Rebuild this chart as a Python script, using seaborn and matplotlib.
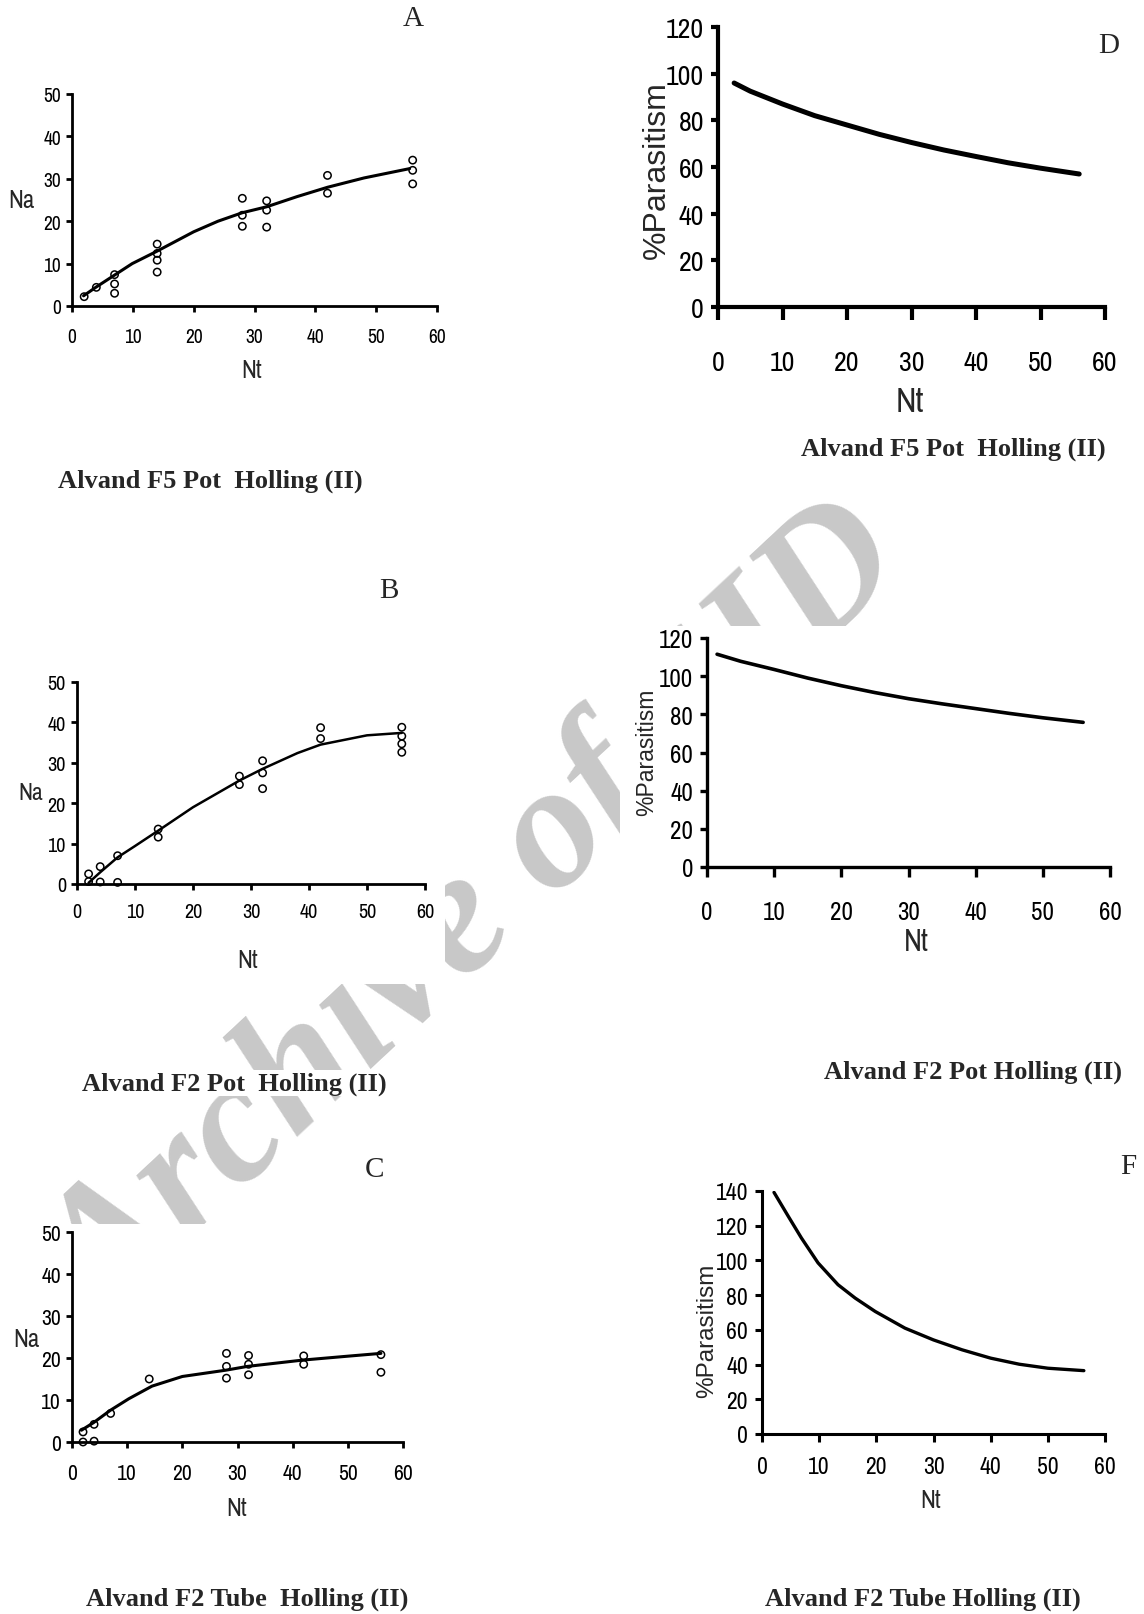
import matplotlib
matplotlib.use("Agg")
import matplotlib.pyplot as plt
import matplotlib.font_manager as fm
from matplotlib.patches import Rectangle
import pandas as pd
import seaborn as sns

# ---- values ----
# A: Alvand F5 Pot
a_nt = [2, 4, 7, 7, 7, 14, 14, 14, 14, 28, 28, 28, 32, 32, 32, 42, 42, 56, 56, 56]
a_na = [2.2, 4.4, 7.4, 5.2, 3.0, 14.6, 12.4, 10.8, 8.0, 25.4, 21.4, 18.8,
        24.8, 22.6, 18.6, 30.8, 26.6, 34.4, 32.0, 28.8]
a_fit_nt = [1.9, 3.9, 6.9, 9.9, 13.8, 20, 24, 28, 32, 37, 42, 48, 55.5]
a_fit_na = [2.4, 4.4, 7.2, 10.0, 12.8, 17.5, 20.0, 22.0, 23.4, 25.8, 28.0, 30.2, 32.4]

# B: Alvand F2 Pot
b_nt = [2, 2, 4, 4, 7, 7, 14, 14, 28, 28, 32, 32, 32, 42, 42, 56, 56, 56, 56]
b_na = [2.5, 0.6, 4.3, 0.5, 7.0, 0.4, 13.6, 11.6, 26.7, 24.6, 30.5, 27.5, 23.6,
        38.7, 36.0, 38.8, 36.6, 34.7, 32.6]
b_fit_nt = [2, 4, 7, 10, 14, 20, 28, 32, 38, 42, 50, 56]
b_fit_na = [0.3, 2.9, 6.6, 9.4, 13.2, 19.0, 25.6, 28.5, 32.4, 34.5, 36.8, 37.4]

# C: Alvand F2 Tube
c_nt = [2, 2, 4, 4, 7, 14, 28, 28, 28, 32, 32, 32, 42, 42, 56, 56]
c_na = [2.4, 0.0, 4.2, 0.2, 6.8, 15.0, 21.1, 18.0, 15.2, 20.6, 18.5, 16.0,
        20.5, 18.5, 20.8, 16.6]
c_fit_nt = [1.7, 3.9, 6.9, 10.3, 14.5, 20, 27.9, 31.8, 41.8, 49.7, 56]
c_fit_na = [2.8, 4.6, 7.5, 10.3, 13.3, 15.6, 17.1, 18.0, 19.5, 20.4, 21.1]

# D, E, F: % parasitism curves
d_nt = [2.5, 5, 10, 15, 20, 25, 30, 35, 40, 45, 50, 56]
d_par = [96, 92.5, 87, 82, 78, 74, 70.5, 67.3, 64.5, 61.8, 59.5, 57]
e_nt = [1.5, 5, 10, 15, 20, 25, 30, 35, 40, 45, 50, 56]
e_par = [111.5, 107.8, 103.5, 99.0, 95.0, 91.4, 88.2, 85.5, 83.0, 80.5, 78.2, 75.8]
f_nt = [2.1, 4.6, 6.9, 9.8, 13.3, 16.3, 19.8, 25, 30, 35, 40, 45, 50, 56.3]
f_par = [139.2, 125.4, 112.9, 98.6, 86.0, 78.3, 70.6, 61.0, 54.2, 48.5, 43.7, 40.2, 37.9, 36.5]

W, H = 1144, 1615

sns.set_style("white")

# narrow sans for the scanned plots if one is installed
ttf = fm.fontManager.ttflist
narrow = [f.name for f in ttf if ("Narrow" in f.name or "Condensed" in f.name)
          and "Mono" not in f.name and "Serif" not in f.name]
dv_cond = any(f.name == "DejaVu Sans" and f.stretch == "condensed" for f in ttf)
if narrow:
    SANS, STRETCH, K = narrow[0], "normal", 1.0
elif dv_cond:
    SANS, STRETCH, K = "DejaVu Sans", "condensed", 0.92
else:
    SANS, STRETCH, K = "Liberation Sans", "normal", 0.9
plt.rcParams["font.family"] = [SANS, "DejaVu Sans"]
plt.rcParams["font.stretch"] = STRETCH

fig = plt.figure(figsize=(W / 100, H / 100), dpi=100)
fig.patch.set_facecolor("white")


def px_axes(x0, x1, y_top, y_bot):
    # axes box from pixel coordinates (origin top-left)
    return fig.add_axes([x0 / W, 1 - y_bot / H, (x1 - x0) / W, (y_bot - y_top) / H])


def white_box(x0, y0, x1, y1):
    fig.patches.append(Rectangle((x0 / W, 1 - y1 / H), (x1 - x0) / W, (y1 - y0) / H,
                                 transform=fig.transFigure, facecolor="white",
                                 edgecolor="none", zorder=-1))


# watermark behind the pasted plots
fig.text(478 / W, 1 - 918 / H, "Archive of SID", rotation=43, ha="center", va="center",
         fontsize=128, color="#c8c8c8", family="Liberation Serif", weight="bold",
         style="italic", stretch="normal", zorder=-3)
white_box(0, 60, 460, 400)
white_box(600, 0, 1144, 420)
white_box(0, 645, 445, 985)
white_box(620, 627, 1144, 950)
white_box(0, 1225, 425, 1520)
white_box(660, 1170, 1144, 1520)


def style(ax, ymax, ystep, fs, padx, pady, lw, tlx, tly):
    ax.set_xlim(0, 60)
    ax.set_ylim(0, ymax)
    ax.set_xticks(range(0, 61, 10))
    ax.set_yticks(range(0, ymax + 1, ystep))
    sns.despine(ax=ax)
    for s in ("left", "bottom"):
        ax.spines[s].set_linewidth(lw)
        ax.spines[s].set_color("black")
    ax.tick_params(axis="x", direction="out", length=tlx, width=lw, pad=padx,
                   labelsize=fs * K, bottom=True, colors="black")
    ax.tick_params(axis="y", direction="out", length=tly, width=lw, pad=pady,
                   labelsize=fs * K, left=True, colors="black")
    ax.set_facecolor("white")


def labels(ax, ylab, ypos, yfs, xpos, xfs, yrot=0, wide=False):
    if wide:
        ax.set_ylabel(ylab, fontsize=yfs, rotation=yrot,
                      family=["Liberation Sans", "DejaVu Sans"], stretch="normal")
    else:
        ax.set_ylabel(ylab, fontsize=yfs * K, rotation=yrot)
    ax.yaxis.set_label_coords(*ypos)
    ax.yaxis.label.set_va("center")
    ax.yaxis.label.set_ha("center")
    ax.set_xlabel("Nt", fontsize=xfs * K)
    ax.xaxis.set_label_coords(*xpos)
    ax.xaxis.label.set_va("center")


def scatter_fit(ax, nt, na, fnt, fna, lw):
    pts = pd.DataFrame({"Nt": nt, "Na": na})
    fit = pd.DataFrame({"Nt": fnt, "Na": fna})
    sns.lineplot(data=fit, x="Nt", y="Na", ax=ax, color="black", lw=lw,
                 estimator=None, sort=False)
    sns.scatterplot(data=pts, x="Nt", y="Na", ax=ax, marker="o", s=28,
                    facecolor="none", edgecolor="black", linewidth=1.1,
                    clip_on=False, zorder=3)


def curve(ax, nt, par, lw):
    df = pd.DataFrame({"Nt": nt, "P": par})
    sns.lineplot(data=df, x="Nt", y="P", ax=ax, color="black", lw=lw,
                 estimator=None, sort=False, solid_capstyle="round")


TITLE = dict(family="Liberation Serif", weight="bold", fontsize=19, ha="center",
             va="center", stretch="normal",
             bbox=dict(facecolor="white", edgecolor="none", pad=1))
LETTER = dict(family="Liberation Serif", fontsize=21, ha="center", va="center",
              stretch="normal")

# ---- A ----
ax = px_axes(72, 437, 95, 307)
scatter_fit(ax, a_nt, a_na, a_fit_nt, a_fit_na, 2.2)
style(ax, 50, 10, 14, 11, 4, 2.0, 4, 4)
labels(ax, "Na", (-0.14, 0.5), 18, (0.493, -0.30), 18)

# ---- D ----
ax = px_axes(718, 1105, 28, 308)
curve(ax, d_nt, d_par, 3.6)
style(ax, 120, 20, 20, 22, 5, 3.0, 9, 5)
labels(ax, "%Parasitism", (-0.158, 0.493), 23, (0.496, -0.336), 25, yrot=90, wide=True)

# ---- B ----
ax = px_axes(77, 425, 683, 885)
scatter_fit(ax, b_nt, b_na, b_fit_nt, b_fit_na, 1.8)
style(ax, 50, 10, 14.5, 9, 4, 2.0, 4, 4)
labels(ax, "Na", (-0.132, 0.455), 17, (0.489, -0.376), 18)

# ---- E ----
ax = px_axes(707, 1110, 639, 868)
curve(ax, e_nt, e_par, 2.6)
style(ax, 120, 20, 18, 17, 5, 2.4, 7, 5)
labels(ax, "%Parasitism", (-0.151, 0.507), 16.5, (0.519, -0.323), 22, yrot=90, wide=True)

# ---- C ----
ax = px_axes(72, 403, 1233, 1443)
scatter_fit(ax, c_nt, c_na, c_fit_nt, c_fit_na, 2.2)
style(ax, 50, 10, 15.5, 11, 4, 2.0, 4, 4)
labels(ax, "Na", (-0.139, 0.495), 18, (0.498, -0.31), 18)

# ---- F ----
ax = px_axes(762, 1105, 1192, 1435)
curve(ax, f_nt, f_par, 2.4)
style(ax, 140, 20, 17, 10, 5, 2.2, 6, 5)
labels(ax, "%Parasitism", (-0.16, 0.428), 17.5, (0.49, -0.27), 18, yrot=90, wide=True)

# panel letters and captions
for s, x, y in [("A", 413, 19), ("D", 1109, 46), ("B", 389, 591),
                ("C", 375, 1170), ("F", 1128, 1167)]:
    fig.text(x / W, 1 - y / H, s, **LETTER)

for s, x, y in [("Alvand F5 Pot  Holling (II)", 210, 481),
                ("Alvand F5 Pot  Holling (II)", 953, 449),
                ("Alvand F2 Pot  Holling (II)", 234, 1084),
                ("Alvand F2 Pot Holling (II)", 973, 1072),
                ("Alvand F2 Tube  Holling (II)", 247, 1599),
                ("Alvand F2 Tube Holling (II)", 923, 1599)]:
    fig.text(x / W, 1 - y / H, s, **TITLE)

fig.savefig("out.png", dpi=100, facecolor="white")
